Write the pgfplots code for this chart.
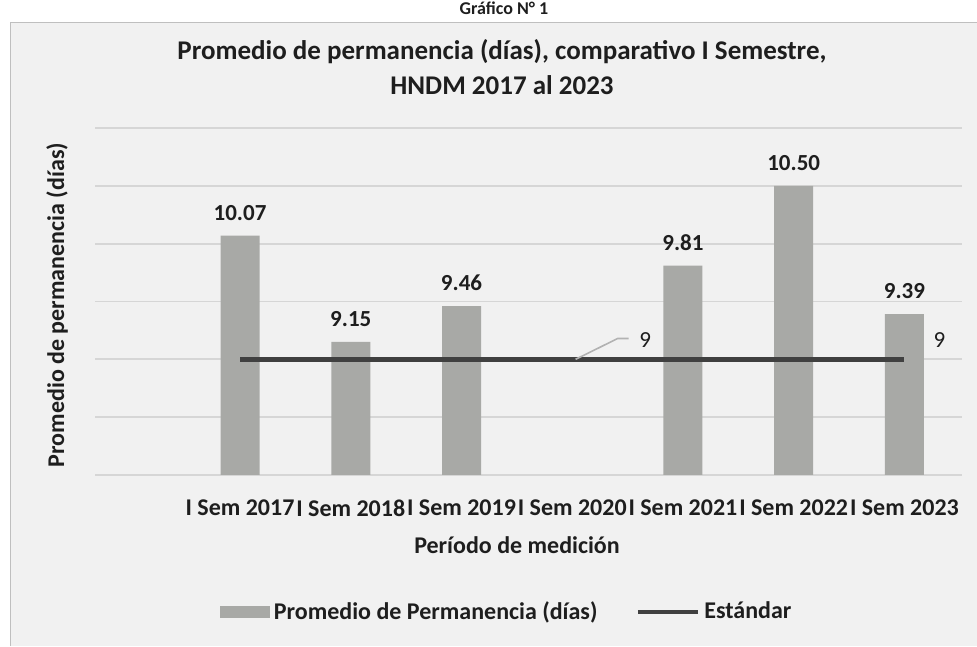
\documentclass[border=0pt]{standalone}
\usepackage{fontspec}
\setmainfont{Carlito}
\usepackage{pgfplots}
\pgfplotsset{compat=1.18}
\definecolor{bg}{RGB}{241,241,241}
\definecolor{barc}{RGB}{168,169,166}
\definecolor{gridc}{RGB}{214,214,214}
\definecolor{linec}{RGB}{64,64,64}
\definecolor{txt}{RGB}{30,30,30}
\begin{document}
\begin{tikzpicture}
\path[use as bounding box] (0,0) rectangle (488.5pt,323pt);
\node[font=\bfseries\fontsize{9}{11}\selectfont, text=txt, anchor=base] at (252pt,315.5pt) {Gráfico N° 1};
\fill[bg] (5pt,0pt) rectangle (488.5pt,312pt);
\draw[gray!50, line width=0.4pt] (5pt,0pt) -- (5pt,312pt) -- (488.5pt,312pt);
\node[font=\bfseries\fontsize{13.5}{17.5}\selectfont, text=txt, align=center] at (251pt,289.25pt) {Promedio de permanencia (días), comparativo I Semestre,\\HNDM 2017 al 2023};
\node[font=\bfseries\fontsize{12}{14}\selectfont, text=txt, rotate=90] at (28.5pt,170.5pt) {Promedio de permanencia (días)};
\node[font=\bfseries\fontsize{12}{14}\selectfont, text=txt] at (258.5pt,50.5pt) {Período de medición};
\begin{axis}[
  at={(47.5pt,85.5pt)}, anchor=south west, scale only axis,
  width=433.5pt, height=173.5pt,
  xmin=-1.31, xmax=6.52, ymin=8, ymax=11,
  ytick={8,8.5,9,9.5,10,10.5,11}, yticklabels={},
  ymajorgrids, grid style={gridc, line width=0.9pt},
  axis line style={draw=none}, major tick length=0pt,
  xtick={0,1,2,3,4,5,6},
  xticklabels={I Sem 2017,I Sem 2018,I Sem 2019,I Sem 2020,I Sem 2021,I Sem 2022,I Sem 2023},
  xticklabel style={font=\bfseries\fontsize{12}{14}\selectfont, text=txt, yshift=-9pt},
  clip=false,
  legend columns=2,
  legend style={at={(0.476,-0.395)}, anchor=center, draw=none, fill=none,
    font=\bfseries\fontsize{12}{14}\selectfont, text=txt,
    /tikz/every even column/.append style={column sep=17pt}},
]
\addplot[ybar, bar width=19.5pt, fill=barc, draw=none,
  point meta=explicit symbolic, nodes near coords,
  nodes near coords style={font=\bfseries\fontsize{11.5}{13}\selectfont, text=txt, anchor=south, yshift=4pt},
  legend image code/.code={\fill[barc] (0pt,-2.8pt) rectangle (25pt,2.8pt);}]
  coordinates {(0,10.07) [10.07] (1,9.15) [9.15] (2,9.46) [9.46] (4,9.81) [9.81] (5,10.50) [10.50] (6,9.39) [9.39]};
\addplot[linec, line width=2.4pt, mark=none,
  legend image code/.code={\draw[linec, line width=2.4pt] (0pt,0pt) -- (30pt,0pt);}]
  coordinates {(0,9) (1,9) (2,9) (3,9) (4,9) (5,9) (6,9)};
\legend{Promedio de Permanencia (días),Estándar}
\draw[gray!60, line width=0.8pt] (axis cs:3.03,9) -- (axis cs:3.41,9.18) -- (axis cs:3.51,9.18);
\node[font=\fontsize{11.5}{13}\selectfont, text=txt] at (axis cs:3.66,9.165) {9};
\node[font=\fontsize{11.5}{13}\selectfont, text=txt] at (axis cs:6.316,9.165) {9};
\end{axis}
\end{tikzpicture}
\end{document}
